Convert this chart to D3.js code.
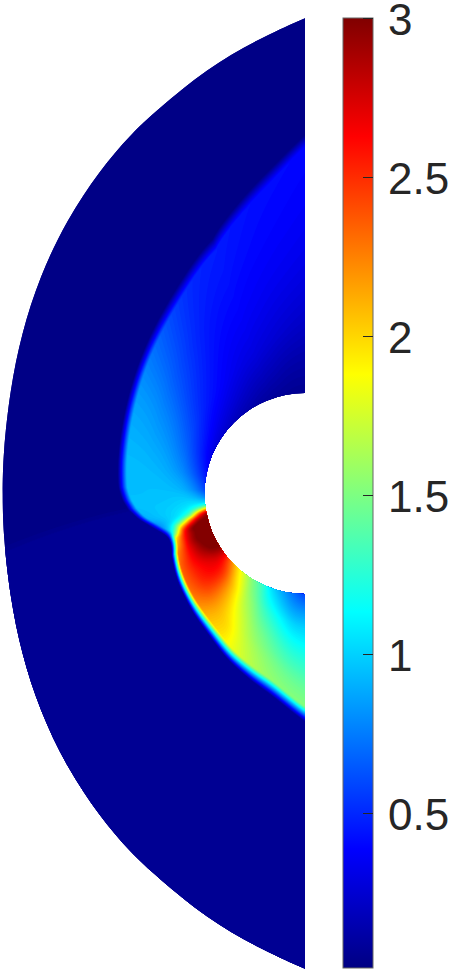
<!DOCTYPE html>
<html>
<head>
<meta charset="utf-8">
<script src="https://cdn.jsdelivr.net/npm/d3@7"></script>
<style>
  html, body { margin: 0; padding: 0; background: #fff; }
  svg { display: block; }
</style>
</head>
<body>
<svg id="chart" width="452" height="973"></svg>
<script>
// Radii are in body radii (r = 1 is the white cylinder), angles in degrees from the top
const outerAngles = [0, 6.1, 13, 21.1, 26, 32.4, 41.1, 50.7, 60.5, 70.7, 82.4, 90, 97.6, 109.3, 119.5, 129.3, 138.9, 147.6, 154, 158.9, 167, 173.9, 180];
const outerRadius = [4.73, 4.54, 4.34, 4.09, 3.97, 3.81, 3.61, 3.41, 3.24, 3.11, 3.03, 3.01, 3.03, 3.11, 3.24, 3.41, 3.61, 3.81, 3.97, 4.09, 4.34, 4.54, 4.73];

const rayAngles = [0, 5, 10, 15, 20, 30, 40, 50, 60, 70, 80, 88, 92, 95, 97, 99, 101, 103, 105, 107, 109, 112,
  115, 120, 125, 130, 135, 140, 145, 150, 155, 160, 165, 170, 175, 180];
const shockRadius = [3.57, 3.29, 3.08, 2.88, 2.71, 2.44, 2.26, 2.12, 2.01, 1.935, 1.885, 1.86, 1.82, 1.77, 1.72, 1.67, 1.60, 1.545, 1.485, 1.44, 1.42, 1.43,
  1.46, 1.50, 1.54, 1.57, 1.61, 1.65, 1.69, 1.75, 1.82, 1.88, 1.95, 2.02, 2.13, 2.27];
const shockWidth = [0.12, 0.12, 0.12, 0.11, 0.11, 0.10, 0.10, 0.09, 0.09, 0.09, 0.09, 0.09, 0.09, 0.09, 0.08, 0.08, 0.08, 0.08, 0.08, 0.07, 0.07, 0.07,
  0.07, 0.07, 0.08, 0.08, 0.09, 0.10, 0.10, 0.11, 0.11, 0.12, 0.13, 0.14, 0.14, 0.15];

// Free stream ahead of the shock: slightly different above and below a faint wake line
const backgroundAngles = [0, 97.2, 98.8, 180];
const backgroundLevels = [0.018, 0.018, 0.05, 0.05];
const wakeRadius = [1.8, 3.0];
const wakeAngle = [95, 100];

// Fraction of the way from the body to the shock for each column of fieldValues
const layerStops = [0, 0.15, 0.3, 0.5, 0.7, 0.85, 1];
const fieldValues = [
  [0.05, 0.13, 0.22, 0.31, 0.36, 0.38, 0.40],
  [0.05, 0.13, 0.23, 0.32, 0.37, 0.39, 0.41],
  [0.06, 0.14, 0.25, 0.33, 0.38, 0.40, 0.42],
  [0.07, 0.17, 0.27, 0.35, 0.39, 0.42, 0.44],
  [0.08, 0.18, 0.29, 0.36, 0.41, 0.44, 0.46],
  [0.12, 0.23, 0.33, 0.39, 0.44, 0.47, 0.50],
  [0.16, 0.30, 0.40, 0.48, 0.55, 0.60, 0.64],
  [0.22, 0.36, 0.47, 0.58, 0.68, 0.73, 0.76],
  [0.27, 0.44, 0.58, 0.72, 0.80, 0.84, 0.85],
  [0.32, 0.52, 0.68, 0.82, 0.87, 0.89, 0.90],
  [0.45, 0.65, 0.80, 0.90, 0.93, 0.94, 0.94],
  [0.60, 0.82, 0.93, 0.95, 0.95, 0.94, 0.94],
  [0.80, 0.95, 0.98, 0.96, 0.95, 0.95, 0.95],
  [1.02, 1.05, 1.02, 0.98, 0.97, 0.96, 0.95],
  [1.30, 1.15, 1.05, 1.00, 0.97, 0.95, 0.92],
  [2.10, 1.50, 1.12, 1.02, 0.98, 0.95, 0.92],
  [2.90, 2.50, 1.40, 1.05, 0.98, 0.92, 0.85],
  [3.00, 2.90, 2.60, 1.60, 1.05, 0.95, 0.80],
  [3.05, 3.05, 3.00, 2.60, 1.90, 1.15, 0.95],
  [3.05, 3.10, 3.10, 3.05, 2.60, 1.90, 1.10],
  [3.10, 3.10, 3.05, 2.95, 2.70, 2.40, 2.05],
  [3.10, 3.12, 3.10, 3.00, 2.75, 2.40, 2.15],
  [3.10, 3.10, 3.05, 2.90, 2.65, 2.40, 2.25],
  [3.05, 3.05, 2.95, 2.78, 2.60, 2.48, 2.35],
  [2.85, 2.80, 2.72, 2.65, 2.55, 2.45, 2.35],
  [2.45, 2.60, 2.65, 2.62, 2.52, 2.42, 2.32],
  [2.15, 2.38, 2.47, 2.47, 2.42, 2.33, 2.25],
  [1.88, 2.02, 2.17, 2.22, 2.22, 2.18, 2.12],
  [1.65, 1.80, 1.92, 2.02, 2.06, 2.05, 2.02],
  [1.45, 1.55, 1.65, 1.78, 1.92, 2.00, 1.95],
  [1.32, 1.40, 1.52, 1.65, 1.75, 1.80, 1.82],
  [1.05, 1.18, 1.32, 1.48, 1.60, 1.68, 1.72],
  [0.93, 1.05, 1.20, 1.38, 1.50, 1.58, 1.62],
  [0.80, 0.92, 1.08, 1.25, 1.40, 1.50, 1.55],
  [0.68, 0.82, 0.98, 1.17, 1.33, 1.45, 1.52],
  [0.58, 0.82, 1.00, 1.17, 1.33, 1.45, 1.52]
];

const colorTicks = [0.5, 1, 1.5, 2, 2.5, 3];
const colorDomain = [0.0126, 3];
const jetStops = [0, 0.125, 0.375, 0.625, 0.875, 1];
const jetColors = ['#000083', '#0000ff', '#00ffff', '#ffff00', '#ff0000', '#800000'];

// ── Layout ──
const width = 452;
const height = 973;
const center = { x: 305, y: 493.5 };
const bar = { left: 343, right: 373, top: 18, bottom: 968 };
const levelCount = 160;

const svg = d3.select('#chart');

const rScale = d3.scaleLinear().domain([0, 1]).range([0, 100.5]);
const toColor = d3.scaleLinear()
  .domain(jetStops.map(t => colorDomain[0] + t * (colorDomain[1] - colorDomain[0])))
  .range(jetColors)
  .clamp(true);

// ── Field lookup, smoothed along the rays and across them ──
const rayCount = rayAngles.length;
const rayIndex = d3.scaleLinear().domain(rayAngles).range(rayAngles.map((d, i) => i / (rayCount - 1))).clamp(true);
const layerIndex = d3.scaleLinear().domain(layerStops).range(layerStops.map((d, i) => i / (layerStops.length - 1))).clamp(true);
const shockAt = d3.interpolateBasis(shockRadius);
const widthAt = d3.interpolateBasis(shockWidth);
const columnAt = layerStops.map((d, j) => d3.interpolateBasis(fieldValues.map(row => row[j])));
const backgroundAt = d3.scaleLinear().domain(backgroundAngles).range(backgroundLevels).clamp(true);
const wakeAt = d3.scaleLinear().domain(wakeRadius).range(wakeAngle);

function layerValue(t, frac) {
  const profile = columnAt.map(c => c(t));
  return d3.interpolateBasis(profile)(layerIndex(frac));
}

function fieldAt(px, py) {
  const dx = Math.max(center.x - px, 0);
  const dy = center.y - py;
  const angle = Math.atan2(dx, dy) * 180 / Math.PI;
  const r = rScale.invert(Math.hypot(dx, dy));
  const t = rayIndex(angle);
  const shock = shockAt(t);
  const w = widthAt(t);
  const bg = backgroundAt(angle - wakeAt(r) + 98);
  if (r >= shock) return bg;
  const edge = shock - w;
  if (r < edge) return layerValue(t, (r - 1) / (edge - 1));
  const f = (r - edge) / w;
  return (1 - f) * layerValue(t, 1) + f * bg;
}

// ── Contour bands on a pixel grid, clipped to the domain ──
const gridX0 = 0, gridY0 = 10;
const nx = 310, ny = 965;
const grid = new Float64Array(nx * ny);
for (let j = 0; j < ny; j++) {
  for (let i = 0; i < nx; i++) {
    grid[j * nx + i] = fieldAt(gridX0 + i + 0.5, gridY0 + j + 0.5);
  }
}

const levelStep = (colorDomain[1] - colorDomain[0]) / levelCount;
const levels = d3.range(levelCount).map(i => colorDomain[0] + i * levelStep);
const bands = d3.contours().size([nx, ny]).thresholds(levels)(grid);
const bandPath = d3.geoPath(d3.geoTransform({
  point(x, y) { this.stream.point(x + gridX0, y + gridY0); }
}));

const outerLine = d3.line()
  .x((d, i) => center.x - rScale(outerRadius[i]) * Math.sin(d * Math.PI / 180))
  .y((d, i) => center.y - rScale(outerRadius[i]) * Math.cos(d * Math.PI / 180))
  .curve(d3.curveBasis);

const rin = rScale(1);
const domainPath = outerLine(outerAngles)
  + `L${center.x},${center.y + rin}`
  + `A${rin},${rin} 0 0 1 ${center.x},${center.y - rin}Z`;

svg.append('clipPath').attr('id', 'domain-clip')
  .append('path').attr('d', domainPath);

const field = svg.append('g').attr('clip-path', 'url(#domain-clip)');
field.append('rect')
  .attr('x', 0).attr('y', 0)
  .attr('width', center.x).attr('height', height)
  .attr('fill', toColor(colorDomain[0]));
field.selectAll('path')
  .data(bands)
  .enter()
  .append('path')
  .attr('d', bandPath)
  .attr('fill', d => toColor(d.value + levelStep / 2));

// ── Colour bar ──
const barScale = d3.scaleLinear().domain(colorDomain).range([bar.bottom, bar.top]);

const gradient = svg.append('linearGradient')
  .attr('id', 'jet')
  .attr('x1', 0).attr('y1', 1)
  .attr('x2', 0).attr('y2', 0);
gradient.selectAll('stop')
  .data(jetStops)
  .enter()
  .append('stop')
  .attr('offset', d => d)
  .attr('stop-color', (d, i) => jetColors[i]);

svg.append('rect')
  .attr('x', bar.left)
  .attr('y', bar.top)
  .attr('width', bar.right - bar.left)
  .attr('height', bar.bottom - bar.top)
  .attr('fill', 'url(#jet)')
  .attr('stroke', '#666')
  .attr('stroke-width', 1);

const axis = svg.append('g')
  .attr('transform', `translate(${bar.right},0)`)
  .call(d3.axisRight(barScale).tickValues(colorTicks).tickSizeInner(-10).tickSizeOuter(0).tickPadding(15).tickFormat(d3.format('~g')));
axis.select('.domain').remove();
axis.selectAll('line').attr('stroke', '#262626').attr('stroke-width', 1);
axis.selectAll('text')
  .attr('font-family', '"Liberation Sans", Arial, sans-serif')
  .attr('font-size', '44px')
  .attr('fill', '#262626')
  .attr('dy', '0.37em');
</script>
</body>
</html>
